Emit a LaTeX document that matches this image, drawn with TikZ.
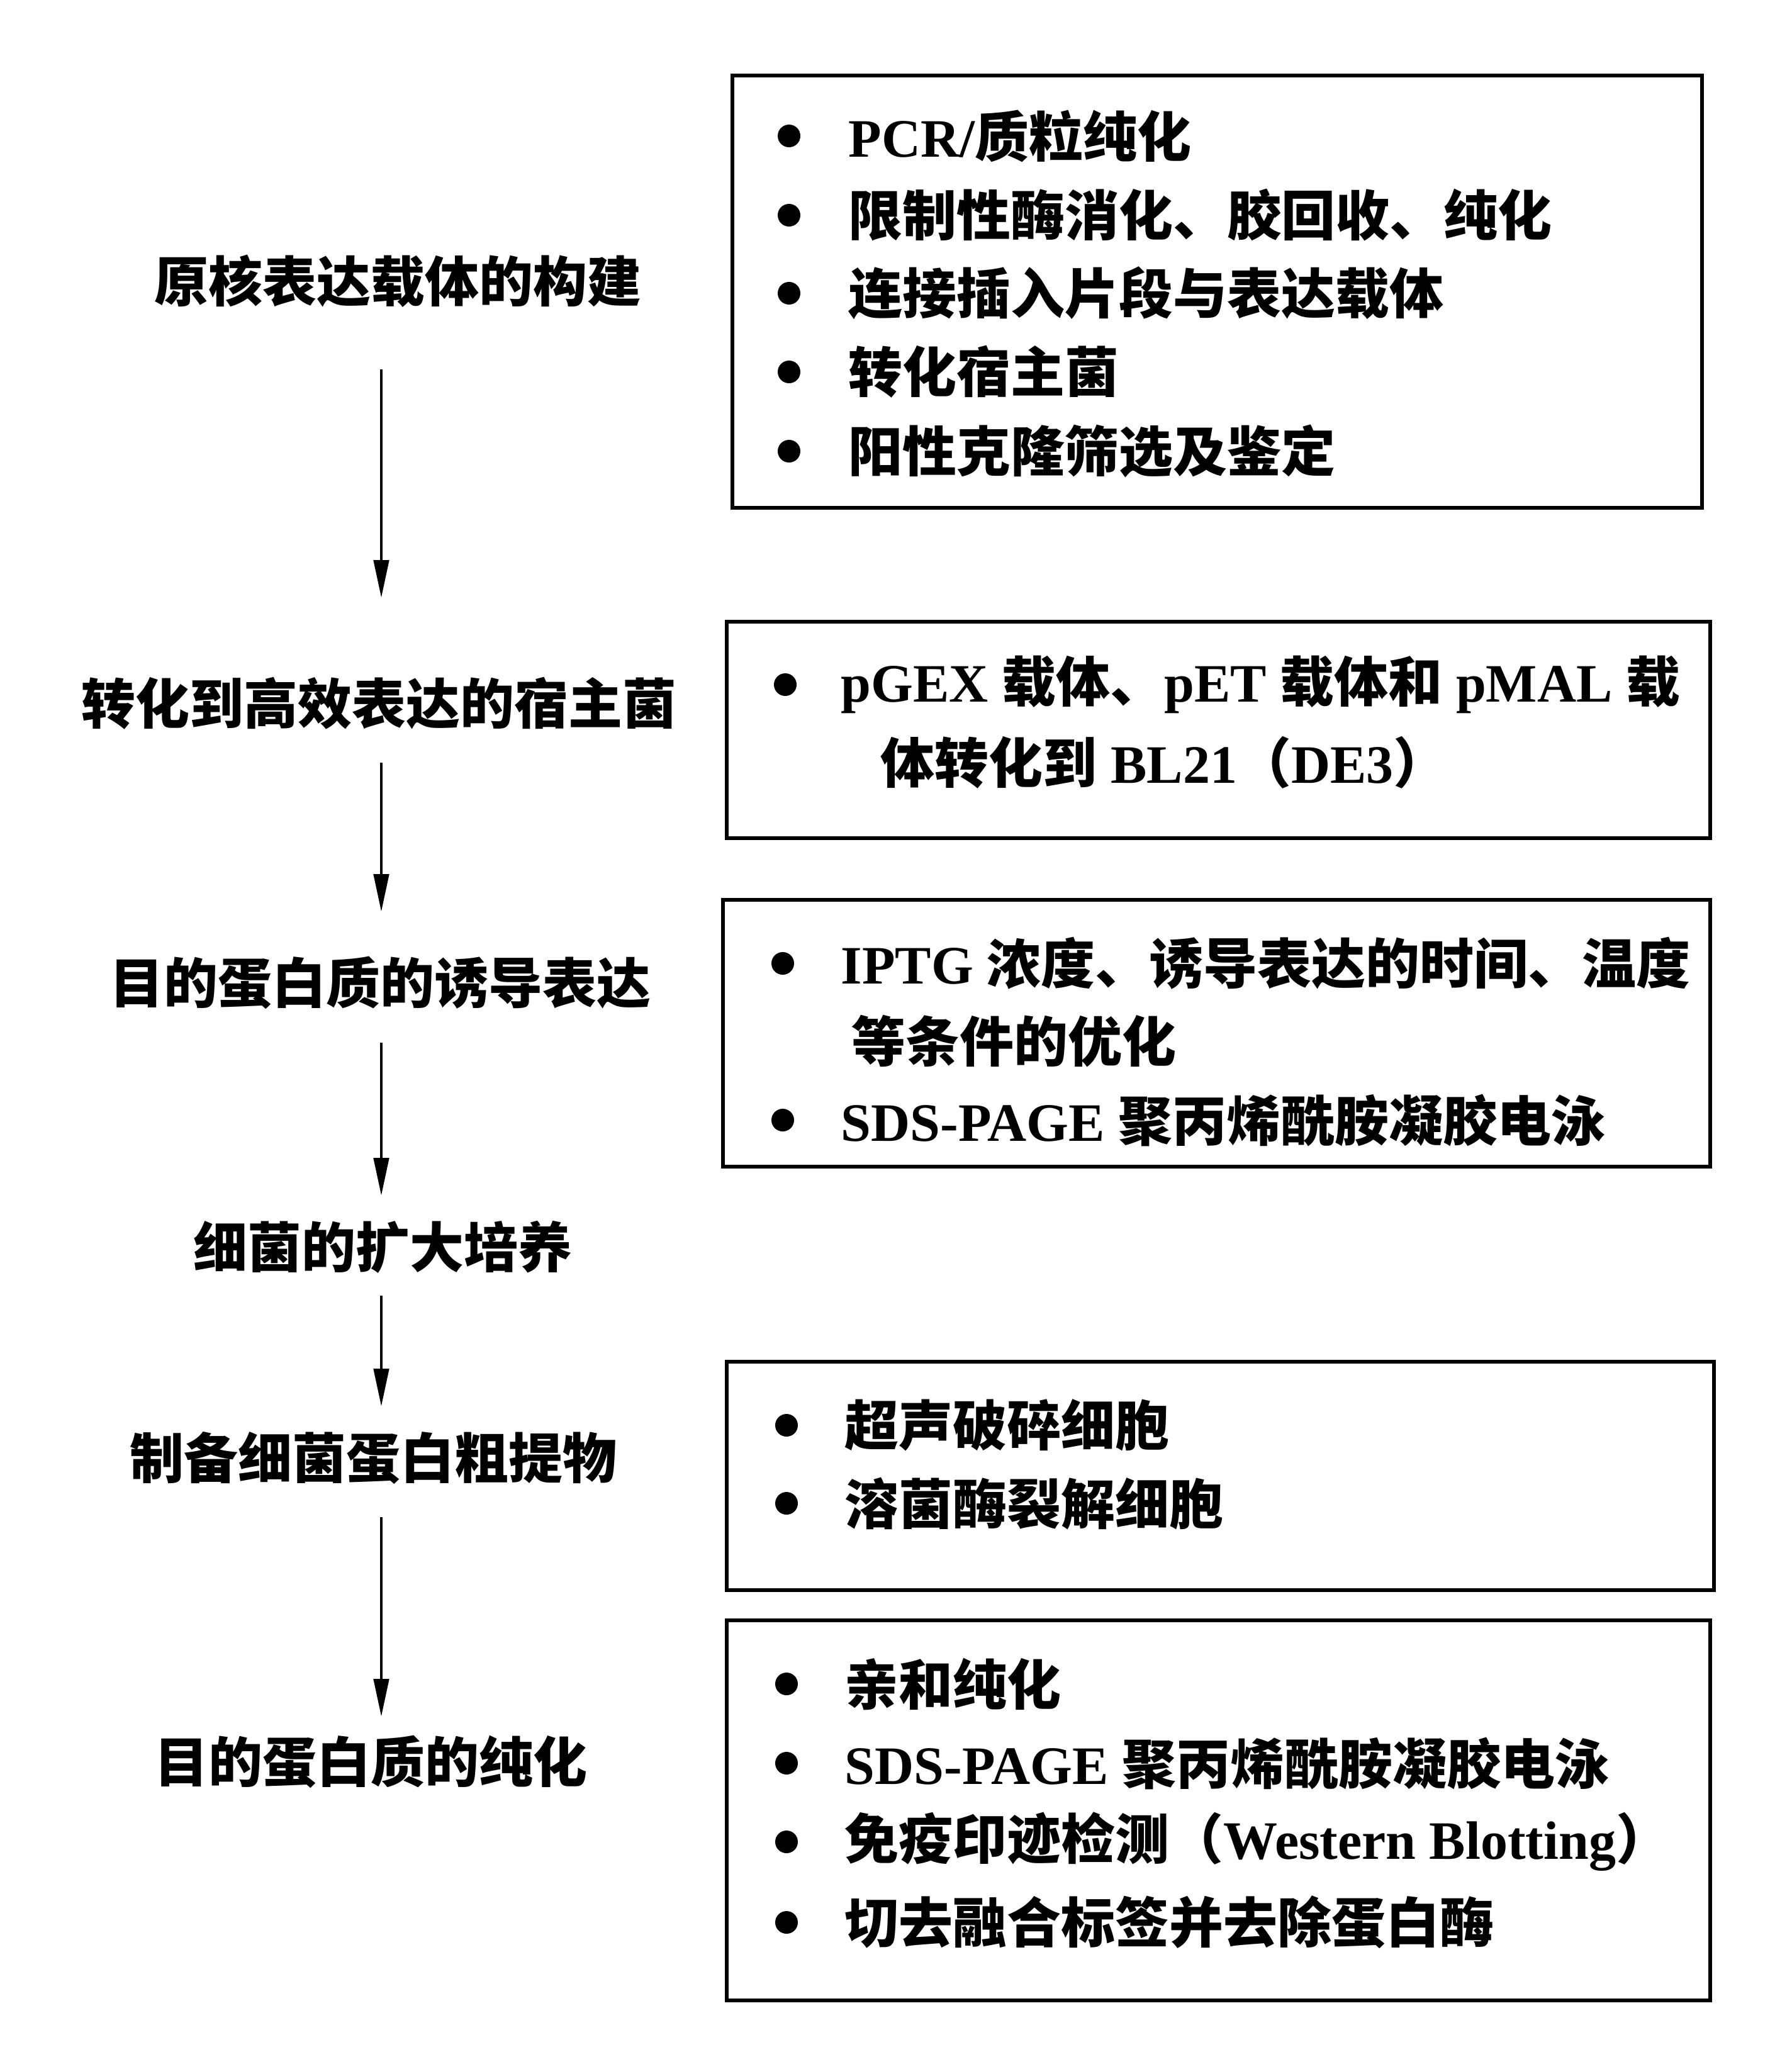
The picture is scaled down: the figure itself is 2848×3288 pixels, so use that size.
\documentclass[tikz,border=0pt]{standalone}
\usepackage{fontspec}
\setmainfont{Liberation Serif}
\newfontfamily\cjk{Noto Sans CJK SC}
\newcommand\zhtxt[1]{{\cjk\bfseries #1}}
\usetikzlibrary{arrows.meta}
\tikzset{
 box/.style={draw=black, line width=1.5pt, inner sep=0pt, outer sep=0pt},
 lab/.style={font=\fontsize{21.5pt}{26pt}\selectfont\cjk\bfseries, inner sep=0pt, anchor=center},
 item/.style={font=\fontsize{21.5pt}{26pt}\selectfont\bfseries, inner sep=0pt, anchor=west},
 dot/.style={circle, fill=black, inner sep=0pt, minimum size=9pt},
 arr/.style={line width=1.2pt, -{Triangle[length=15pt,width=6pt]}}
}
\begin{document}
\begin{tikzpicture}[x=0.25pt,y=-0.25pt]
\useasboundingbox[fill=white] (0,0) rectangle (2848,3288);
% boxes
\node[box, minimum width=385.25pt, minimum height=171.75pt] (b1) at (1934.5,463.5) {};
\node[box, minimum width=390.75pt, minimum height=86pt] (b2) at (1936.5,1160) {};
\node[box, minimum width=392.25pt, minimum height=106pt] (b3) at (1933.5,1642) {};
\node[box, minimum width=392.25pt, minimum height=90.75pt] (b4) at (1939.5,2345.5) {};
\node[box, minimum width=390.75pt, minimum height=151pt] (b5) at (1936.5,2877) {};
% left labels
\node[lab] (l1) at (632,447) {原核表达载体的构建};
\node[lab] (l2) at (602,1118) {转化到高效表达的宿主菌};
\node[lab] (l3) at (604,1562) {目的蛋白质的诱导表达};
\node[lab] (l4) at (608,1982) {细菌的扩大培养};
\node[lab] (l5) at (593,2317) {制备细菌蛋白粗提物};
\node[lab] (l6) at (589,2800) {目的蛋白质的纯化};
% arrows
\coordinate (a1s) at (606,587);  \coordinate (a1e) at (606,950);
\coordinate (a2s) at (606,1212); \coordinate (a2e) at (606,1449);
\coordinate (a3s) at (606,1657); \coordinate (a3e) at (606,1900);
\coordinate (a4s) at (606,2059); \coordinate (a4e) at (606,2235);
\coordinate (a5s) at (606,2411); \coordinate (a5e) at (606,2728);
\draw[arr] (a1s) -- (a1e);
\draw[arr] (a2s) -- (a2e);
\draw[arr] (a3s) -- (a3e);
\draw[arr] (a4s) -- (a4e);
\draw[arr] (a5s) -- (a5e);
% box 1
\node[dot] (d11) at (1254,216) {};
\node[dot] (d12) at (1254,342) {};
\node[dot] (d13) at (1254,466) {};
\node[dot] (d14) at (1254,591) {};
\node[dot] (d15) at (1254,717) {};
\node[item] (t11) at (1348,216) {PCR/\zhtxt{质粒纯化}};
\node[item] (t12) at (1348,342) {\zhtxt{限制性酶消化、胶回收、纯化}};
\node[item] (t13) at (1348,466) {\zhtxt{连接插入片段与表达载体}};
\node[item] (t14) at (1348,591) {\zhtxt{转化宿主菌}};
\node[item] (t15) at (1348,717) {\zhtxt{阳性克隆筛选及鉴定}};
% box 2
\node[dot] (d21) at (1248,1088) {};
\node[item] (t21) at (1336,1088) {pGEX \zhtxt{载体、}pET \zhtxt{载体和} pMAL \zhtxt{载}};
\node[item] (t22) at (1399,1212) {\zhtxt{体转化到} BL21\zhtxt{（}DE3\zhtxt{）}};
% box 3
\node[dot] (d31) at (1244,1531) {};
\node[dot] (d32) at (1244,1780) {};
\node[item] (t31) at (1336,1531) {IPTG \zhtxt{浓度、诱导表达的时间、温度}};
\node[item] (t32) at (1353,1655) {\zhtxt{等条件的优化}};
\node[item] (t33) at (1336,1780) {SDS-PAGE \zhtxt{聚丙烯酰胺凝胶电泳}};
% box 4
\node[dot] (d41) at (1250,2265) {};
\node[dot] (d42) at (1250,2389) {};
\node[item] (t41) at (1342,2265) {\zhtxt{超声破碎细胞}};
\node[item] (t42) at (1342,2389) {\zhtxt{溶菌酶裂解细胞}};
% box 5
\node[dot] (d51) at (1250,2676) {};
\node[dot] (d52) at (1250,2802) {};
\node[dot] (d53) at (1250,2927) {};
\node[dot] (d54) at (1250,3055) {};
\node[item] (t51) at (1342,2676) {\zhtxt{亲和纯化}};
\node[item] (t52) at (1342,2802) {SDS-PAGE \zhtxt{聚丙烯酰胺凝胶电泳}};
\node[item] (t53) at (1342,2927) {\zhtxt{免疫印迹检测（}Western Blotting\zhtxt{）}};
\node[item] (t54) at (1342,3055) {\zhtxt{切去融合标签并去除蛋白酶}};
\end{tikzpicture}
\end{document}
